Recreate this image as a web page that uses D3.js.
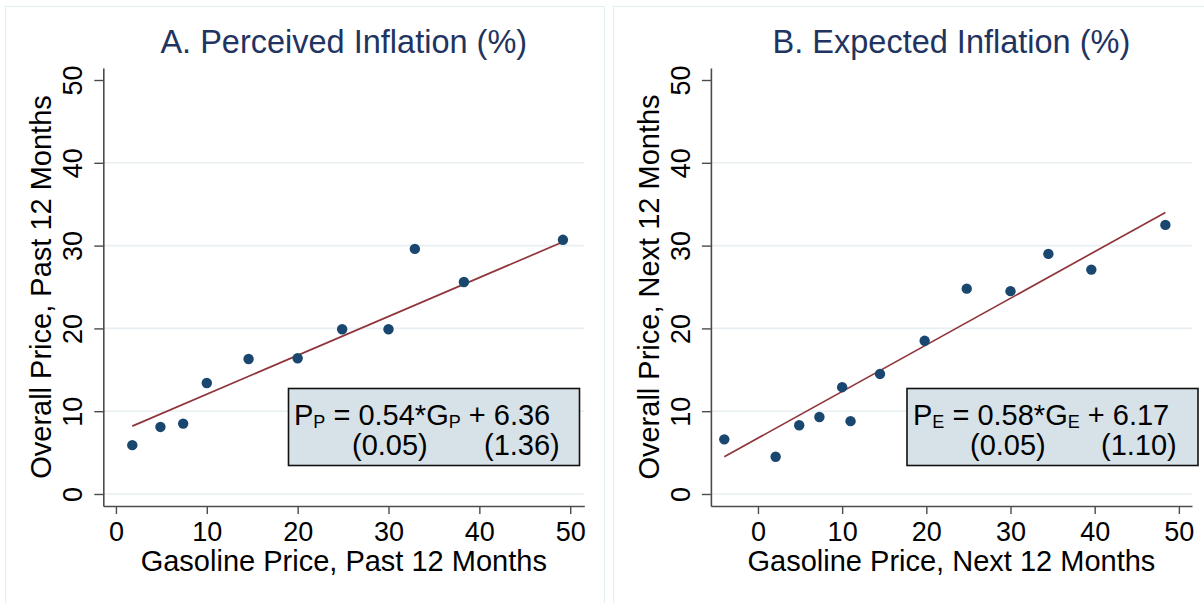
<!DOCTYPE html>
<html>
<head>
<meta charset="utf-8">
<script src="https://cdn.jsdelivr.net/npm/d3@7"></script>
<style>
  body { margin: 0; background: #fff; }
  svg { display: block; }
  text { font-family: "Liberation Sans", Arial, Helvetica, sans-serif; }
</style>
</head>
<body>
<svg id="chart" width="1204" height="603"></svg>
<script>
// ---- data ----
const xTicks = [0, 10, 20, 30, 40, 50];
const yTicks = [0, 10, 20, 30, 40, 50];
const gridTicks = [0, 10, 20, 30, 40];

// Panel A: perceived inflation, past 12 months (binned means)
const perceivedGas     = [1.8, 4.9, 7.4, 10.0, 14.6, 20.0, 24.9, 30.0, 32.9, 38.3, 49.2];
const perceivedOverall = [5.9, 8.1, 8.5, 13.4, 16.3, 16.4, 19.9, 19.9, 29.6, 25.6, 30.7];
const perceivedFitX    = [1.8, 49.1];
const perceivedFitY    = [8.2, 30.4];
const perceivedEq      = { lhs: "P", sub: "P", slope: "0.54", rhs: "G", intercept: "6.36", seSlope: "(0.05)", seIntercept: "(1.36)" };

// Panel B: expected inflation, next 12 months (binned means)
const expectedGas     = [-4.0, 2.1, 4.9, 7.3, 10.0, 11.0, 14.5, 19.8, 24.8, 30.0, 34.5, 39.6, 48.4];
const expectedOverall = [6.6, 4.5, 8.3, 9.3, 12.9, 8.8, 14.5, 18.5, 24.8, 24.5, 29.0, 27.1, 32.5];
const expectedFitX    = [-4.0, 48.4];
const expectedFitY    = [4.5, 34.0];
const expectedEq      = { lhs: "P", sub: "E", slope: "0.58", rhs: "G", intercept: "6.17", seSlope: "(0.05)", seIntercept: "(1.10)" };

// ---- layout ----
const panels = [
  {
    frame: [5.5, 6.5, 599, 620],
    title: "A. Perceived Inflation (%)",
    xTitle: "Gasoline Price, Past 12 Months",
    yTitle: "Overall Price, Past 12 Months",
    xDomain: [-1.39, 51.55], xRange: [103.3, 584.3],
    gas: perceivedGas, overall: perceivedOverall,
    fitX: perceivedFitX, fitY: perceivedFitY, eq: perceivedEq,
    box: [288.5, 388.5, 291, 77],
    eqX: 294, se1X: 352, se2X: 484
  },
  {
    frame: [613.5, 6.5, 620, 620],
    title: "B. Expected Inflation (%)",
    xTitle: "Gasoline Price, Next 12 Months",
    yTitle: "Overall Price, Next 12 Months",
    xDomain: [-5.59, 51.56], xRange: [710.9, 1192],
    gas: expectedGas, overall: expectedOverall,
    fitX: expectedFitX, fitY: expectedFitY, eq: expectedEq,
    box: [907, 388.5, 291, 77],
    eqX: 913, se1X: 970, se2X: 1101
  }
];

const yDomain = [-1.45, 51.45];
const yRange = [506, 68];

const svg = d3.select("#chart");
svg.append("rect").attr("width", 1204).attr("height", 603).attr("fill", "#fff");

const axisColor = "#4b4b4b";
const gridColor = "#e7eff2";
const dotColor = "#1a476f";
const fitColor = "#90353b";
const titleColor = "#1f3460";

panels.forEach(p => {
  const g = svg.append("g");
  const x = d3.scaleLinear().domain(p.xDomain).range(p.xRange);
  const y = d3.scaleLinear().domain(yDomain).range(yRange);
  const x0 = p.xRange[0], x1 = p.xRange[1];

  // subgraph frame
  g.append("rect")
    .attr("x", p.frame[0]).attr("y", p.frame[1])
    .attr("width", p.frame[2]).attr("height", p.frame[3])
    .attr("fill", "none").attr("stroke", "#e5eef1").attr("stroke-width", 1.2);

  // horizontal gridlines
  g.selectAll("line.grid").data(gridTicks).join("line")
    .attr("class", "grid")
    .attr("x1", x0).attr("x2", x1)
    .attr("y1", d => y(d)).attr("y2", d => y(d))
    .attr("stroke", gridColor).attr("stroke-width", 1.6);

  // axes
  const xAxis = d3.axisBottom(x).tickValues(xTicks).tickSizeInner(8).tickSizeOuter(0).tickFormat(d3.format("d"));
  const yAxis = d3.axisLeft(y).tickValues(yTicks).tickSizeInner(9).tickSizeOuter(0).tickFormat(d3.format("d"));

  const gx = g.append("g").attr("transform", `translate(0,${yRange[0]})`).call(xAxis);
  const gy = g.append("g").attr("transform", `translate(${x0},0)`).call(yAxis);

  [gx, gy].forEach(a => {
    a.select(".domain").attr("stroke", axisColor).attr("stroke-width", 1.6);
    a.selectAll(".tick line").attr("stroke", axisColor).attr("stroke-width", 1.4);
    a.selectAll(".tick text").attr("fill", "#000").attr("font-size", 27)
      .attr("font-family", '"Liberation Sans", Arial, sans-serif');
  });
  gx.selectAll(".tick text").attr("dy", null).attr("y", 34.5);
  gy.selectAll(".tick text")
    .attr("x", null).attr("dy", null)
    .attr("text-anchor", "middle")
    .attr("transform", "translate(-21,0) rotate(-90)");

  // fitted line
  const fit = p.fitX.map((v, i) => [v, p.fitY[i]]);
  g.append("path")
    .attr("d", d3.line().x(d => x(d[0])).y(d => y(d[1]))(fit))
    .attr("fill", "none").attr("stroke", fitColor).attr("stroke-width", 1.7);

  // binned points
  g.selectAll("circle.pt").data(p.gas.map((v, i) => [v, p.overall[i]])).join("circle")
    .attr("class", "pt")
    .attr("cx", d => x(d[0])).attr("cy", d => y(d[1]))
    .attr("r", 5.2).attr("fill", dotColor);

  // titles
  const cx = (x0 + x1) / 2;
  g.append("text").attr("x", cx).attr("y", 53)
    .attr("text-anchor", "middle").attr("font-size", 32.5).attr("fill", titleColor)
    .text(p.title);
  g.append("text").attr("x", cx).attr("y", 571)
    .attr("text-anchor", "middle").attr("font-size", 29).attr("fill", "#000")
    .text(p.xTitle);
  g.append("text")
    .attr("transform", `translate(${x0 - 52},287) rotate(-90)`)
    .attr("text-anchor", "middle").attr("font-size", 29).attr("fill", "#000")
    .text(p.yTitle);

  // regression equation box
  g.append("rect")
    .attr("x", p.box[0]).attr("y", p.box[1]).attr("width", p.box[2]).attr("height", p.box[3])
    .attr("fill", "#d6e2e8").attr("stroke", "#111").attr("stroke-width", 1.6);

  const eq = g.append("text").attr("x", p.eqX).attr("y", 425)
    .attr("font-size", 29).attr("fill", "#000");
  eq.append("tspan").text(p.eq.lhs);
  eq.append("tspan").attr("font-size", 18).attr("dy", 3).text(p.eq.sub);
  eq.append("tspan").attr("dy", -3).text(` = ${p.eq.slope}*${p.eq.rhs}`);
  eq.append("tspan").attr("font-size", 18).attr("dy", 3).text(p.eq.sub);
  eq.append("tspan").attr("dy", -3).text(` + ${p.eq.intercept}`);

  g.append("text").attr("x", p.se1X).attr("y", 455)
    .attr("font-size", 29).attr("fill", "#000").text(p.eq.seSlope);
  g.append("text").attr("x", p.se2X).attr("y", 455)
    .attr("font-size", 29).attr("fill", "#000").text(p.eq.seIntercept);
});
</script>
</body>
</html>
